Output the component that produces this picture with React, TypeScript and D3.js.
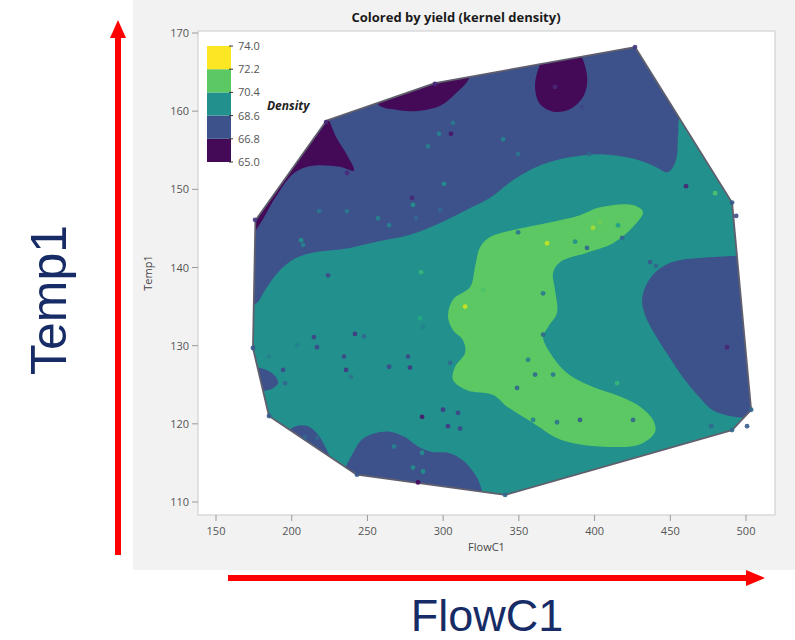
import React from "react";
import * as d3 from "d3";

// ---------- data ----------
const title = "Colored by yield (kernel density)";
const xLabel = "FlowC1";
const yLabel = "Temp1";
const legendTitle = "Density";
const thresholds = [65.0, 66.8, 68.6, 70.4, 72.2, 74.0];
const bandColors = ["#450a57", "#3d518b", "#22908c", "#5cc863", "#fde725"];
const xTicks = [150, 200, 250, 300, 350, 400, 450, 500];
const yTicks = [110, 120, 130, 140, 150, 160, 170];

// convex hull of the design (FlowC1, Temp1)
const hull: [number, number][] = [
  [176, 146], [223, 158.8], [294.6, 163.6], [426.7, 168.2], [490.8, 148.3],
  [503.4, 121.8], [490.8, 119.2], [340.9, 110.9], [243, 113.5], [185, 121], [174.4, 129.7],
];

// contour band boundaries (FlowC1, Temp1)
const blueTop: [number, number][] = [
  [139, 135.2], [172.5, 135.2], [177.1, 135.5], [182.4, 137.1], [191.0, 139.4], [202.8, 141.2],
  [217.4, 142.0], [235.2, 142.4], [258.3, 143.4], [278.1, 144.2], [298.0, 145.7], [317.8, 147.6],
  [331.6, 149.0], [345.5, 151.1], [362.0, 152.9], [380.5, 154.0], [403.6, 154.5], [426.1, 153.9],
  [440.0, 152.9], [448.5, 152.2], [453.8, 153.8], [455.2, 157.0], [457.1, 159.5],
  [480, 161], [480, 175], [139, 175],
];
const blueRight: [number, number][] = [
  [512, 141.6], [514, 121.2], [501.4, 120.8], [489.5, 121.0], [477.6, 121.8], [469.7, 123.3],
  [458.5, 125.9], [448.5, 128.8], [440.0, 131.4], [433.4, 133.9], [431.4, 135.9], [435.3, 138.2],
  [443.3, 139.9], [453.2, 140.8], [469.7, 141.2], [494.1, 141.5],
];
const blueBottom: [number, number][] = [
  [235.2, 114.1], [239.8, 116.0], [246.4, 118.0], [255.0, 118.8], [264.9, 119.0], [274.8, 118.3],
  [283.4, 117.1], [292.7, 116.4], [303.2, 116.3], [312.5, 115.4], [319.7, 113.9], [324.4, 112.2],
  [327, 108], [231.9, 108],
];
const blueBottomSmall: [number, number][] = [
  [197.6, 119.0], [202.8, 119.7], [210.8, 119.7], [217.4, 118.6], [222.0, 117.1], [225.3, 115.4],
  [218.7, 113.0], [194, 116.5],
];
const blueLeft: [number, number][] = [
  [177.7, 127.2], [184.3, 126.8], [189.6, 126.0], [191.0, 125.2], [187.0, 124.5], [180.4, 124.2],
  [170, 124.3], [170, 127.2],
];
const purpleWedge: [number, number][] = [
  [222.7, 159.5], [229.3, 156.7], [236.5, 154.4], [241.1, 152.4], [231.9, 152.9], [212.7, 153.0],
  [201.5, 152.1], [189.0, 148.9], [179.1, 145.6], [172, 144], [165, 146], [210, 162],
];
const purpleBump: [number, number][] = [
  [257.0, 160.9], [268.2, 160.2], [281.4, 160.0], [298.0, 160.7], [308.5, 162.3], [317.1, 164.2],
  [318, 167.5], [287, 167], [255, 165],
];
const purpleBlob: [number, number][] = [
  [369.3, 167.5], [387.8, 167.8], [395.0, 164.6], [393.1, 162.1], [385.1, 160.4], [373.9, 159.9],
  [364.0, 160.9], [360.7, 163.0], [362.7, 165.3],
];
const greenC: [number, number][] = [
  [432.0, 147.1], [425.4, 148.0], [403.6, 147.7], [390.4, 146.7], [368.6, 145.7], [346.2, 144.8],
  [331.0, 143.9], [324.4, 142.6], [321.1, 140.1], [317.8, 137.5], [306.5, 135.9], [303.2, 133.7],
  [306.5, 132.0], [313.1, 130.7], [314.5, 129.1], [307.9, 127.3], [306.5, 125.6], [315.8, 124.3],
  [333.0, 123.7], [342.2, 122.2], [359.4, 120.1], [377.2, 118.0], [403.6, 117.1], [430.1, 117.4],
  [440.0, 119.0], [438.6, 120.5], [430.1, 122.2], [416.8, 123.5], [399.0, 124.7], [381.8, 126.5],
  [370.6, 129.1], [366.0, 131.1], [369.3, 132.4], [375.2, 134.2], [373.9, 137.1], [372.6, 139.3],
  [377.2, 140.7], [395.0, 141.9], [412.2, 143.1], [425.4, 145.2],
];

// observations: [FlowC1, Temp1, yield]
const obs: [number, number, number][] = [
  [368.6, 143.1, 73.2], [399.0, 145.1, 72.8], [403.6, 145.8, 72.0], [415.5, 145.4, 70.0],
  [387.1, 143.3, 69.5], [395.0, 142.5, 68.0], [314.5, 135.0, 73.4], [326.4, 137.1, 71.5],
  [285.4, 139.4, 71.0], [284.7, 133.5, 70.5], [276.8, 128.6, 67.0], [304.6, 127.8, 68.0],
  [293.3, 127.3, 69.5], [299.9, 121.8, 66.5], [309.8, 121.4, 66.8], [286.1, 120.9, 65.5],
  [366.0, 136.7, 68.5], [366.0, 131.4, 68.0], [356.1, 128.2, 69.0], [360.7, 126.3, 68.0],
  [372.6, 126.3, 68.5], [348.8, 124.6, 68.0], [390.4, 120.5, 67.5], [359.4, 120.5, 69.0],
  [375.2, 120.2, 68.5], [425.4, 120.5, 68.0], [414.9, 125.2, 71.0], [381.8, 128.8, 69.5],
  [298.0, 147.4, 68.0], [280.1, 148.0, 69.5], [436.7, 140.7, 67.5], [349.5, 144.5, 68.5],
  [294.6, 163.5, 66.0], [426.7, 168.2, 66.5], [373.9, 163.1, 66.0], [391.7, 160.5, 67.0],
  [339.6, 156.4, 69.0], [306.5, 158.5, 68.5], [305.2, 157.1, 65.5], [297.3, 157.1, 69.0],
  [290.0, 155.5, 69.0], [300.6, 150.7, 69.5], [279.5, 148.9, 66.0], [349.5, 154.5, 68.5],
  [396.4, 154.5, 68.0], [460.4, 150.4, 66.0], [458.5, 149.0, 69.5], [479.6, 149.5, 71.5],
  [493.5, 146.6, 67.0], [236.5, 152.1, 66.0], [218.0, 147.2, 68.5], [236.5, 147.2, 68.5],
  [257.0, 146.3, 69.0], [264.3, 145.4, 69.0], [282.1, 146.3, 68.0], [418.2, 143.8, 68.0],
  [222.7, 158.6, 66.0], [207.5, 142.9, 69.0], [224.0, 139.0, 67.0], [247.8, 140.3, 69.5],
  [252.4, 135.6, 69.5], [265.6, 133.5, 69.5], [286.7, 132.4, 69.0], [241.8, 131.5, 66.5],
  [247.8, 131.2, 68.0], [216.7, 129.8, 67.0], [191.0, 129.5, 69.5], [203.5, 130.1, 69.0],
  [235.9, 126.9, 66.5], [239.2, 126.0, 68.5], [264.3, 127.3, 67.0], [278.1, 127.2, 66.5],
  [262.9, 128.0, 69.5], [294.6, 125.7, 69.5], [195.6, 125.2, 68.0], [208.8, 118.3, 68.0],
  [216.7, 118.2, 68.0], [267.6, 117.1, 69.0], [286.7, 113.9, 69.5], [283.4, 112.5, 65.2],
  [440.6, 140.2, 68.0], [487.5, 129.8, 66.0], [477.0, 119.7, 68.0], [500.7, 119.7, 67.5],
  [174.4, 129.7, 67.5], [175.8, 146.1, 66.5], [185.0, 121.0, 67.5], [243.1, 113.5, 67.5],
  [340.9, 110.9, 68.0], [503.4, 121.8, 68.0], [490.8, 148.3, 67.5], [490.8, 119.2, 68.0],
  [185.0, 128.6, 69.0], [194.3, 126.9, 67.0], [234.5, 128.6, 67.0], [214.7, 131.1, 66.8],
  [206.2, 143.5, 69.5], [191.0, 130.7, 69.5], [303.2, 119.7, 66.5], [311.2, 119.4, 67.0],
  [280.1, 114.4, 69.5], [286.1, 116.3, 69.5],
];

// ---------- layout ----------
const W = 795, H = 640;
const frame = { left: 198, right: 775, top: 31, bottom: 515 };

export default function App() {
  const x = d3.scaleLinear().domain([150, 500]).range([216, 746]);
  const y = d3.scaleLinear().domain([110, 170]).range([502, 33]);
  const region = d3
    .line<[number, number]>()
    .x((d) => x(d[0]))
    .y((d) => y(d[1]))
    .curve(d3.curveCatmullRomClosed.alpha(0.5));
  const hullPath = d3
    .line<[number, number]>()
    .x((d) => x(d[0]))
    .y((d) => y(d[1]))
    .curve(d3.curveLinearClosed)(hull) as string;
  const ptColor = d3.scaleSequential(d3.interpolateViridis).domain([65, 74]);
  const legY = d3.scaleLinear().domain([65, 74]).range([162, 46]);

  const fontUI = "'Open Sans', 'DejaVu Sans', sans-serif";
  const midFrame = (frame.left + frame.right) / 2;

  return (
    <svg width={W} height={H} style={{ position: "absolute", left: 0, top: 0, background: "#fff" }}>
      <defs>
        <clipPath id="hullClip">
          <path d={hullPath} />
        </clipPath>
      </defs>
      {/* gray graph panel */}
      <rect x={133} y={0} width={662} height={570} fill="#f2f2f2" />
      <rect x={frame.left} y={frame.top} width={frame.right - frame.left} height={frame.bottom - frame.top}
        fill="#fff" stroke="#c9c9c9" strokeWidth={1} />

      {/* title */}
      <text x={456} y={22} textAnchor="middle" fontFamily={fontUI} fontWeight={700} fontSize={13} fill="#1a1a1a">
        {title}
      </text>

      {/* contour bands */}
      <g clipPath="url(#hullClip)">
        <path d={hullPath} fill={bandColors[2]} />
        <path d={region(blueTop) as string} fill={bandColors[1]} />
        <path d={region(blueRight) as string} fill={bandColors[1]} />
        <path d={region(blueBottom) as string} fill={bandColors[1]} />
        <path d={region(blueBottomSmall) as string} fill={bandColors[1]} />
        <path d={region(blueLeft) as string} fill={bandColors[1]} />
        <path d={region(purpleWedge) as string} fill={bandColors[0]} />
        <path d={region(purpleBump) as string} fill={bandColors[0]} />
        <path d={region(purpleBlob) as string} fill={bandColors[0]} />
        <path d={region(greenC) as string} fill={bandColors[3]} />
      </g>
      <path d={hullPath} fill="none" stroke="#5f5f6e" strokeWidth={1.8} strokeLinejoin="round" />

      {/* observations */}
      {obs.map((d, i) => (
        <circle key={i} cx={x(d[0])} cy={y(d[1])} r={2.4} fill={ptColor(d[2])} opacity={0.9} />
      ))}

      {/* y axis */}
      {yTicks.map((t) => (
        <g key={t}>
          <line x1={frame.left - 6} x2={frame.left} y1={y(t)} y2={y(t)} stroke="#9a9a9a" />
          <text x={frame.left - 9} y={y(t) + 4} textAnchor="end" fontFamily={fontUI} fontSize={11} fill="#555">
            {t}
          </text>
        </g>
      ))}
      <text transform={`translate(152,${(frame.top + frame.bottom) / 2}) rotate(-90)`} textAnchor="middle"
        fontFamily={fontUI} fontSize={11} fill="#444">
        {yLabel}
      </text>

      {/* x axis */}
      {xTicks.map((t) => (
        <g key={t}>
          <line x1={x(t)} x2={x(t)} y1={frame.bottom} y2={frame.bottom + 6} stroke="#9a9a9a" />
          <text x={x(t)} y={frame.bottom + 20} textAnchor="middle" fontFamily={fontUI} fontSize={11} fill="#555">
            {t}
          </text>
        </g>
      ))}
      <text x={midFrame} y={551} textAnchor="middle" fontFamily={fontUI} fontSize={11} fill="#444">
        {xLabel}
      </text>

      {/* legend */}
      {bandColors.map((c, i) => (
        <rect key={c} x={207} y={legY(thresholds[i + 1])} width={24}
          height={legY(thresholds[i]) - legY(thresholds[i + 1])} fill={c} />
      ))}
      {thresholds.map((t) => (
        <g key={t}>
          <line x1={229} x2={233} y1={legY(t)} y2={legY(t)} stroke="#333" />
          <text x={238} y={legY(t) + 4} fontFamily={fontUI} fontSize={11} fill="#555">
            {t.toFixed(1)}
          </text>
        </g>
      ))}
      <text x={267} y={110} fontFamily={fontUI} fontSize={12} fontWeight={700} fontStyle="italic" fill="#222">
        {legendTitle}
      </text>

      {/* red arrows */}
      <line x1={118} x2={118} y1={555} y2={36} stroke="#ff0000" strokeWidth={6} />
      <path d="M110,38 L118,20 L126,38 Z" fill="#ff0000" />
      <line x1={228} x2={748} y1={578} y2={578} stroke="#ff0000" strokeWidth={6} />
      <path d="M746,570 L765,578 L746,586 Z" fill="#ff0000" />

      {/* big axis labels */}
      <text transform="translate(66,300) rotate(-90)" textAnchor="middle"
        fontFamily="'Liberation Sans', Arial, sans-serif" fontSize={50} fill="#172c66">
        {yLabel}
      </text>
      <text x={487} y={631} textAnchor="middle"
        fontFamily="'Liberation Sans', Arial, sans-serif" fontSize={45} fill="#172c66">
        {xLabel}
      </text>
    </svg>
  );
}
